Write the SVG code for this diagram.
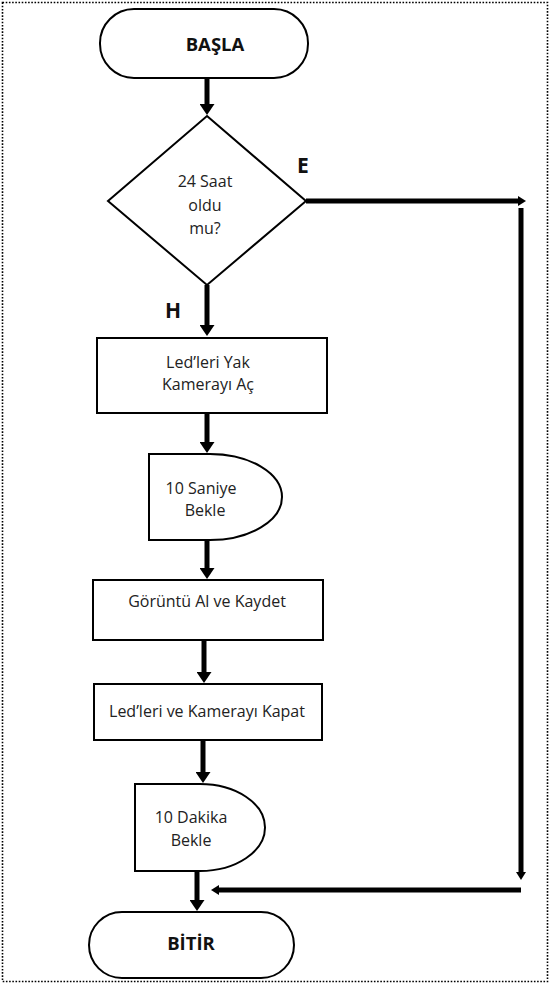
<svg xmlns="http://www.w3.org/2000/svg" width="550" height="984" viewBox="0 0 550 984">
<style>
.shape{fill:#fff;stroke:#000;stroke-width:2}
.conn{fill:none;stroke:#000;stroke-width:5}
.t{font-family:"Open Sans","Liberation Sans",sans-serif;font-size:16px;fill:#222;text-anchor:middle}
.b{font-family:"Open Sans","Liberation Sans",sans-serif;font-size:18.5px;font-weight:bold;fill:#111;text-anchor:middle}
.lbl{font-family:"Open Sans","Liberation Sans",sans-serif;font-size:21px;font-weight:bold;fill:#111}
</style>
<defs>
<marker id="arr" markerUnits="userSpaceOnUse" markerWidth="11" markerHeight="15" viewBox="0 0 11 15" refX="1" refY="7.5" orient="auto">
<path d="M0,0 L11,7.5 L0,15 Z" fill="#000"/>
</marker>
<marker id="arrs" markerUnits="userSpaceOnUse" markerWidth="8" markerHeight="10" viewBox="0 0 8 10" refX="1" refY="5" orient="auto">
<path d="M0,0 L8,5 L0,10 Z" fill="#000"/>
</marker>
</defs>
<rect x="2.5" y="2.5" width="545" height="979" fill="none" stroke="#000" stroke-width="1.6" stroke-dasharray="1.6 1.6"/>
<g id="connectors">
<line class="conn" x1="207" y1="78" x2="207" y2="105" marker-end="url(#arr)"/>
<line class="conn" x1="207" y1="285" x2="207" y2="326" marker-end="url(#arr)"/>
<line class="conn" x1="207" y1="413" x2="207" y2="443" marker-end="url(#arr)"/>
<line class="conn" x1="207" y1="540" x2="207" y2="569" marker-end="url(#arr)"/>
<line class="conn" x1="204" y1="640" x2="204" y2="673" marker-end="url(#arr)"/>
<line class="conn" x1="203" y1="740" x2="203" y2="773" marker-end="url(#arr)"/>
<line class="conn" x1="197" y1="871" x2="197" y2="901" marker-end="url(#arr)"/>
<line class="conn" x1="306" y1="201" x2="519" y2="201" marker-end="url(#arrs)"/>
<line class="conn" x1="521" y1="208" x2="521" y2="873" marker-end="url(#arrs)"/>
<line class="conn" x1="521" y1="890" x2="218" y2="890" marker-end="url(#arrs)"/>
</g>
<g id="start">
<rect class="shape" x="100" y="9" width="208" height="69" rx="34" ry="34"/>
<text class="b" x="215" y="51">BAŞLA</text>
</g>
<g id="decision">
<polygon class="shape" points="207,116 306,201 207,285 108,201"/>
<text class="t" x="205" y="187">24 Saat</text>
<text class="t" x="205" y="211">oldu</text>
<text class="t" x="205" y="234">mu?</text>
</g>
<g id="label-e"><text class="lbl" x="297" y="173">E</text></g>
<g id="label-h"><text class="lbl" x="165" y="318">H</text></g>
<g id="leds-on">
<rect class="shape" x="97" y="338" width="230" height="75"/>
<text class="t" x="208" y="368">Led’leri Yak</text>
<text class="t" x="208" y="390">Kamerayı Aç</text>
</g>
<g id="wait-10s">
<path class="shape" d="M149,454 H210 A72,43 0 0 1 210,540 H149 Z"/>
<text class="t" x="201" y="494">10 Saniye</text>
<text class="t" x="205" y="516">Bekle</text>
</g>
<g id="capture">
<rect class="shape" x="93" y="580" width="230" height="60"/>
<text class="t" x="207" y="607">Görüntü Al ve Kaydet</text>
</g>
<g id="leds-off">
<rect class="shape" x="94" y="684" width="228" height="56"/>
<text class="t" x="207" y="717">Led’leri ve Kamerayı Kapat</text>
</g>
<g id="wait-10m">
<path class="shape" d="M135,784 H200 A65,43.5 0 0 1 200,871 H135 Z"/>
<text class="t" x="191" y="823">10 Dakika</text>
<text class="t" x="191" y="846">Bekle</text>
</g>
<g id="end">
<rect class="shape" x="89" y="912" width="205" height="66" rx="33" ry="33"/>
<text class="b" x="191" y="950">BİTİR</text>
</g>
</svg>
